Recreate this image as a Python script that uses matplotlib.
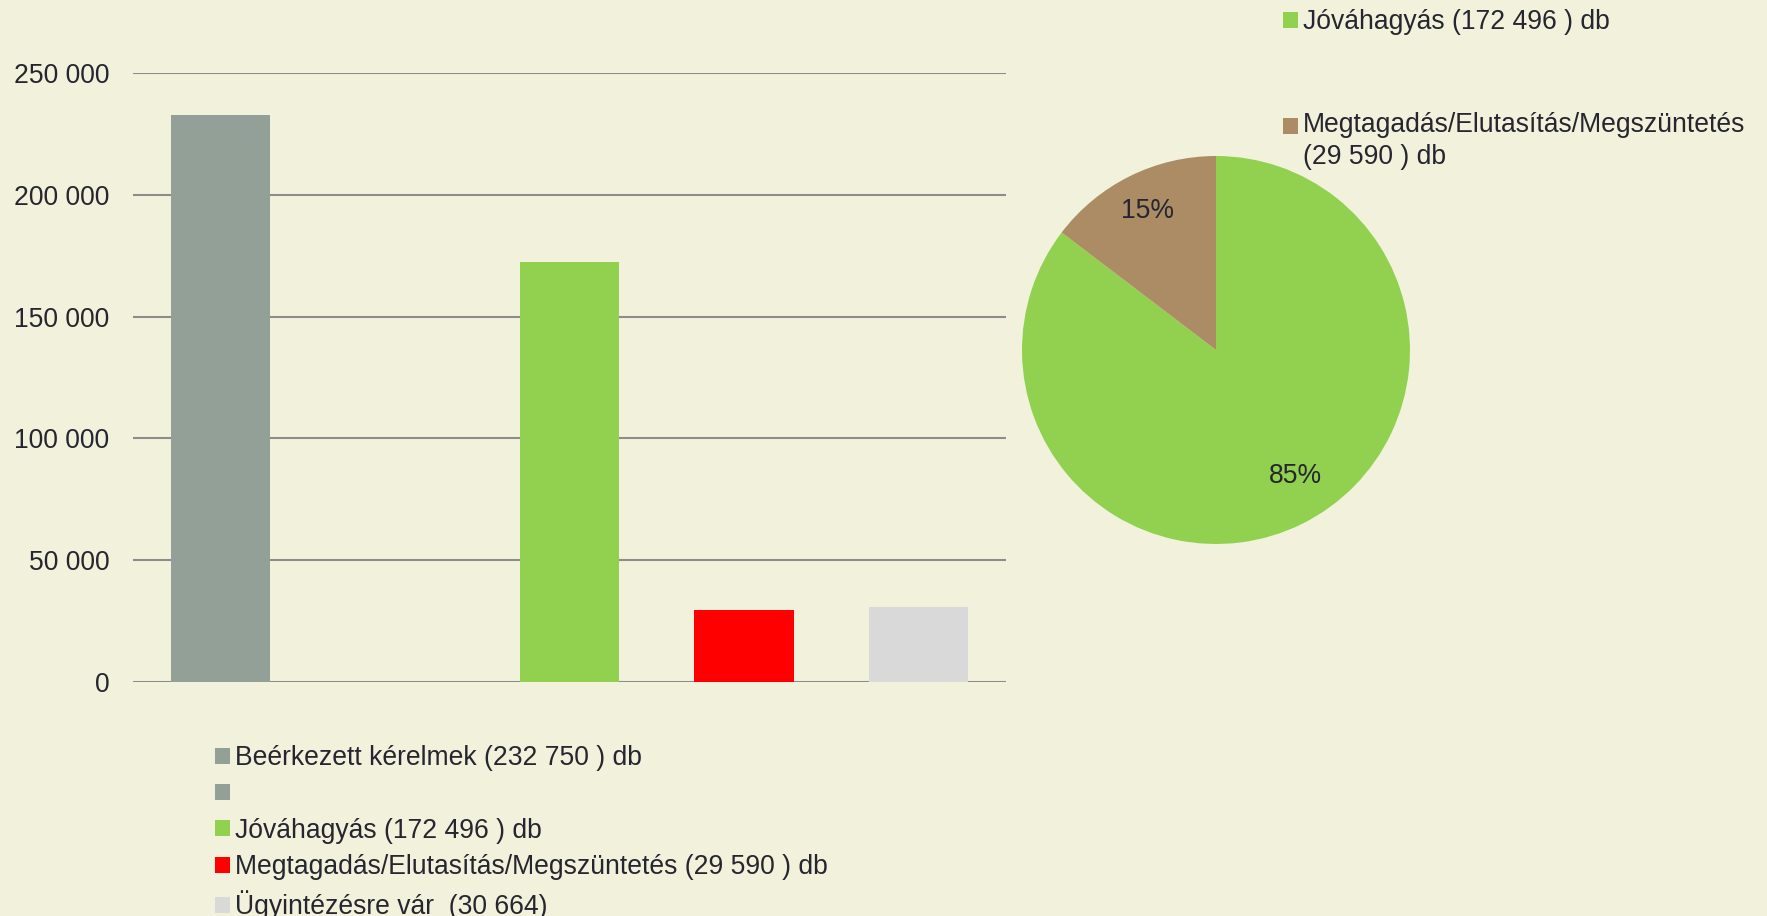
import numpy as np
import matplotlib.pyplot as plt
from matplotlib.patches import Patch, Rectangle
from matplotlib.legend_handler import HandlerPatch
from matplotlib.ticker import FuncFormatter

# ========== DATA ==========
bar_labels = ['Beérkezett kérelmek (232 750 ) db', '', 'Jóváhagyás (172 496 ) db',
              'Megtagadás/Elutasítás/Megszüntetés (29 590 ) db', 'Ügyintézésre vár  (30 664)']
bar_values = [232750, 0, 172496, 29590, 30664]
bar_colors = ['#92A097', '#92A097', '#92D050', '#FF0000', '#D9D9D9']

pie_labels = ['Jóváhagyás (172 496 ) db', 'Megtagadás/Elutasítás/Megszüntetés\n(29 590 ) db']
pie_values = [172496, 29590]
pie_colors = ['#92D050', '#AB8C64']

y_ticks = [0, 50000, 100000, 150000, 200000, 250000]

# ========== STYLE ==========
bg = '#F2F2DC'
txt = '#262630'
fs = 19.1
plt.rcParams['font.family'] = ['Liberation Sans', 'DejaVu Sans']

W, H = 1767, 916
fig = plt.figure(figsize=(W / 100, H / 100), dpi=100, facecolor=bg)

# ========== BAR CHART ==========
ax = fig.add_axes([133 / W, 1 - 682 / H, (1006 - 133) / W, (682 - 73) / H])
ax.set_facecolor(bg)
x = np.arange(len(bar_values))
ax.bar(x, bar_values, width=0.57, color=bar_colors, zorder=3)
ax.set_xlim(-0.5, len(bar_values) - 0.5)
ax.set_ylim(0, 250000)
ax.set_yticks(y_ticks)
ax.yaxis.set_major_formatter(FuncFormatter(lambda v, p: f'{int(v):,}'.replace(',', ' ')))
ax.set_xticks([])
ax.tick_params(axis='y', length=0, pad=17, labelsize=fs, labelcolor=txt)
ax.grid(axis='y', color='#8C8C8C', linewidth=1.5, zorder=0)
for s in ax.spines.values():
    s.set_visible(False)

bar_handles = [Patch(facecolor=c, edgecolor='none') for c in bar_colors]
leg1 = fig.legend(bar_handles, bar_labels, loc='upper left',
                  bbox_to_anchor=(215 / W, 1 - 745 / H), frameon=False,
                  fontsize=fs, labelcolor=txt, handlelength=0.55, handleheight=0.55,
                  handletextpad=0.2, labelspacing=0.39, borderpad=0, borderaxespad=0)

# ========== PIE CHART ==========
pax = fig.add_axes([(1216 - 194) / W, 1 - (350 + 194) / H, 388 / W, 388 / H])
wedges, _, pct_texts = pax.pie(pie_values, colors=pie_colors, startangle=90, counterclock=False,
                               autopct='%1.0f%%', pctdistance=0.8,
                               textprops={'fontsize': fs, 'color': txt})
pax.set_xlim(-1, 1)
pax.set_ylim(-1, 1)
# Excel puts the big label a bit off the wedge middle
pct_texts[0].set_position((0.41, -0.65))


# marker on the first line of a two-line label
def top_square(legend, orig_handle, xdescent, ydescent, width, height, fontsize):
    return Rectangle((-xdescent, -ydescent + 0.6 * fontsize), width, height)


for i in range(len(pie_labels)):
    ypos = [9, 112][i]
    handler = {Patch: HandlerPatch(patch_func=top_square)} if '\n' in pie_labels[i] else None
    lg = fig.legend([Patch(facecolor=pie_colors[i], edgecolor='none')], [pie_labels[i]],
                    loc='upper left', bbox_to_anchor=(1283 / W, 1 - ypos / H), frameon=False,
                    fontsize=fs, labelcolor=txt, handlelength=0.55, handleheight=0.55,
                    handletextpad=0.2, borderpad=0, borderaxespad=0, handler_map=handler)
    for t in lg.get_texts():
        t.set_linespacing(1.3)

fig.savefig('out.png', dpi=100, facecolor=bg)
